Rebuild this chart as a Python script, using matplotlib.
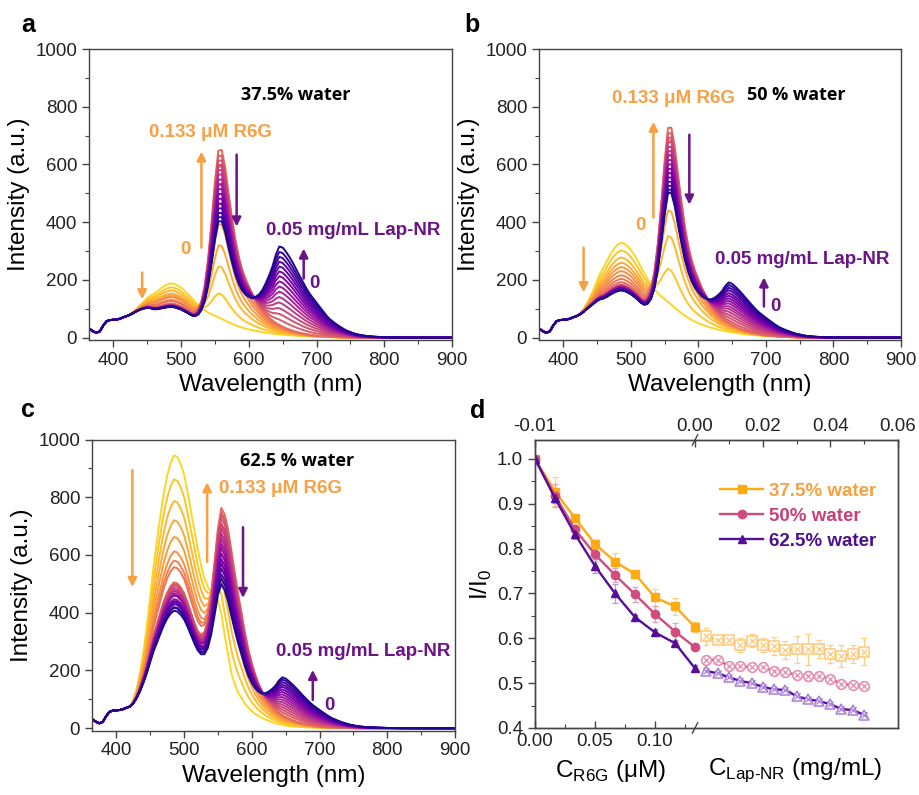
import numpy as np
import matplotlib
matplotlib.use("Agg")
import matplotlib.pyplot as plt
from matplotlib.ticker import MultipleLocator, FormatStrFormatter, FixedLocator

plt.rcParams['font.family'] = ['Liberation Sans', 'DejaVu Sans']

# ------------------------------------------------------------------ data
# wavelength grid of the spectra (nm)
wl = np.arange(365, 901, 5)

# constant background (same in every curve), starts at 365 nm
base_start = 365
base_vals = [30, 22, 17, 22, 42, 57, 61, 62, 63, 66, 71, 75, 78, 80, 80, 77,
             70, 60, 45, 30, 20, 13, 8, 5, 3, 2, 1, 1, 0, 0, 0, 0]

# donor emission band (normalised), starts at 420 nm
donor_start = 420
donor_ab = [0.0, 0.02, 0.06, 0.12, 0.2, 0.3, 0.42, 0.55, 0.66, 0.76, 0.85, 0.92, 0.97, 1.0,
            0.995, 0.97, 0.93, 0.88, 0.82, 0.75, 0.68, 0.62, 0.56, 0.51, 0.47, 0.44, 0.41, 0.38,
            0.35, 0.32, 0.29, 0.26,
            0.235, 0.21, 0.19, 0.17, 0.155, 0.14, 0.127, 0.115, 0.104, 0.094, 0.085, 0.077,
            0.07, 0.063, 0.057, 0.051, 0.046, 0.041, 0.037, 0.033, 0.029, 0.026, 0.023, 0.02,
            0.018, 0.016, 0.014, 0.012, 0.01, 0.008, 0.007, 0.006, 0.005, 0.004, 0.003, 0.002, 0.001]
donor_c = [0.0, 0.02, 0.06, 0.12, 0.2, 0.3, 0.42, 0.55, 0.66, 0.76, 0.85, 0.92, 0.97, 1.0,
           0.995, 0.97, 0.93, 0.87, 0.8, 0.73, 0.66, 0.6, 0.55, 0.52, 0.5, 0.49, 0.47, 0.42,
           0.34, 0.27, 0.2, 0.16,
           0.13, 0.11, 0.09, 0.075, 0.063, 0.053, 0.045, 0.038, 0.032, 0.027, 0.022, 0.018,
           0.015, 0.012, 0.01, 0.008, 0.007, 0.006, 0.005, 0.004, 0.003, 0.003, 0.002, 0.002,
           0.001, 0, 0, 0, 0, 0, 0, 0, 0, 0, 0, 0, 0]

# R6G emission band (normalised), starts at 515 nm
r6g_start = 515
r6g_ab = [0.0, 0.01, 0.04, 0.1, 0.2, 0.36, 0.57, 0.8, 0.98, 0.99,
          0.9, 0.76, 0.63, 0.51, 0.42, 0.35, 0.3, 0.26, 0.22, 0.19,
          0.16, 0.135, 0.115, 0.097, 0.082, 0.07, 0.06, 0.051, 0.044, 0.037,
          0.031, 0.026, 0.022, 0.018, 0.015, 0.012, 0.01, 0.008, 0.007, 0.006,
          0.005, 0.004, 0.003, 0.003, 0.002, 0.002, 0.001, 0.001]
r6g_c = [0.0, 0.01, 0.04, 0.1, 0.2, 0.36, 0.57, 0.8, 0.97, 1.0,
         0.97, 0.9, 0.8, 0.7, 0.6, 0.5, 0.41, 0.34, 0.28, 0.23,
         0.19, 0.16, 0.135, 0.115, 0.097, 0.082, 0.07, 0.06, 0.051, 0.043,
         0.036, 0.03, 0.025, 0.021, 0.017, 0.014, 0.011, 0.009, 0.008, 0.007,
         0.006, 0.005, 0.004, 0.003, 0.002, 0.002, 0.001, 0.001]

# Nile red (Lap-NR) emission band (normalised), starts at 575 nm
nr_start = 575
nr_shape = [0.01, 0.02, 0.035, 0.05, 0.07, 0.1, 0.14, 0.2, 0.27, 0.36,
            0.47, 0.59, 0.72, 0.88, 0.99, 0.99, 0.95, 0.9, 0.84, 0.77,
            0.7, 0.63, 0.56, 0.5, 0.45, 0.4, 0.35, 0.3, 0.25, 0.21,
            0.18, 0.15, 0.125, 0.1, 0.08, 0.065, 0.052, 0.04, 0.032, 0.025,
            0.02, 0.015, 0.012, 0.01, 0.008, 0.006, 0.005, 0.004, 0.003, 0.002,
            0.002, 0.001, 0.001, 0.001, 0.0, 0.0]

# donor intensity of the first curve of each panel
donor_I0 = {'a': 185, 'b': 326, 'c': 942}

# R6G band amplitude of each curve (9 R6G additions, then 15 Lap-NR additions)
r6g_amp_a = [0, 90, 189, 268, 345, 418, 488, 555, 616,
             598, 582, 566, 549, 533, 516, 500, 483, 466, 449, 432, 416, 400, 385, 370]
r6g_amp_b = [0, 128, 253, 350, 425, 497, 565, 620, 668,
             652, 637, 622, 606, 591, 576, 561, 546, 531, 516, 501, 487, 474, 461, 449]
r6g_amp_c = [0, 106, 200, 285, 360, 425, 480, 530, 569,
             553, 538, 522, 507, 491, 476, 461, 446, 431, 415, 400, 385, 370, 355, 340]
# Lap-NR band amplitude of each curve
nr_amp_a = [0, 0, 0, 0, 0, 0, 0, 0, 0,
            20, 41, 62, 83, 103, 123, 142, 161, 180, 198, 216, 234, 252, 270, 290]
nr_amp_b = [0, 0, 0, 0, 0, 0, 0, 0, 0,
            10, 21, 32, 43, 54, 64, 75, 85, 95, 105, 115, 126, 136, 146, 156]
nr_amp_c = [0, 0, 0, 0, 0, 0, 0, 0, 0,
            11, 21, 31, 41, 51, 61, 71, 81, 91, 101, 111, 120, 130, 140, 149]

# panel d : I/I0
c_r6g = [0.0, 0.0167, 0.0333, 0.05, 0.0667, 0.0833, 0.1, 0.1167, 0.1333]
c_lap = [0.0033, 0.0067, 0.01, 0.0133, 0.0167, 0.02, 0.0233, 0.0267, 0.03,
         0.0333, 0.0367, 0.04, 0.0433, 0.0467, 0.05]

y375_r6g = [1.0, 0.927, 0.868, 0.810, 0.771, 0.743, 0.691, 0.671, 0.625]
e375_r6g = [0.0, 0.032, 0.008, 0.010, 0.020, 0.005, 0.018, 0.018, 0.012]
y50_r6g = [1.0, 0.918, 0.843, 0.787, 0.741, 0.698, 0.654, 0.615, 0.580]
e50_r6g = [0.0, 0.025, 0.010, 0.015, 0.015, 0.017, 0.017, 0.020, 0.005]
y625_r6g = [1.0, 0.912, 0.832, 0.761, 0.700, 0.647, 0.613, 0.589, 0.533]
e625_r6g = [0.0, 0.010, 0.010, 0.015, 0.022, 0.005, 0.007, 0.007, 0.007]

y375_lap = [0.605, 0.596, 0.596, 0.585, 0.595, 0.585, 0.583, 0.574, 0.575, 0.575,
            0.577, 0.565, 0.561, 0.565, 0.570]
e375_lap = [0.019, 0.005, 0.007, 0.015, 0.015, 0.015, 0.020, 0.020, 0.030, 0.035,
            0.020, 0.020, 0.025, 0.020, 0.030]
y50_lap = [0.552, 0.552, 0.538, 0.538, 0.535, 0.535, 0.527, 0.525, 0.518, 0.516,
           0.516, 0.510, 0.498, 0.496, 0.494]
e50_lap = [0.008, 0.005, 0.005, 0.005, 0.005, 0.005, 0.008, 0.008, 0.008, 0.012,
           0.008, 0.006, 0.005, 0.005, 0.005]
y625_lap = [0.527, 0.522, 0.513, 0.505, 0.500, 0.492, 0.486, 0.485, 0.471, 0.464,
            0.460, 0.453, 0.442, 0.440, 0.429]
e625_lap = [0.006, 0.006, 0.006, 0.006, 0.006, 0.006, 0.006, 0.006, 0.006, 0.006,
            0.006, 0.006, 0.006, 0.006, 0.006]

series_labels = ['37.5% water', '50% water', '62.5% water']
spec_xticks = [400, 500, 600, 700, 800, 900]
spec_yticks = [0, 200, 400, 600, 800, 1000]
d_yticks = [0.4, 0.5, 0.6, 0.7, 0.8, 0.9, 1.0]
d_bottom_ticks = [0.0, 0.05, 0.10]
d_top_ticks = [0.0, 0.02, 0.04, 0.06]
d_top_labels = ['0.00', '0.02', '0.04', '0.06']
d_top_left_label = '-0.01'

# ------------------------------------------------------------------ helpers
def place(start, vals):
    arr = np.zeros(len(wl))
    i = int((start - wl[0]) // 5)
    arr[i:i + len(vals)] = vals
    return arr

BASE = place(base_start, base_vals)
DON_AB = place(donor_start, donor_ab)
DON_C = place(donor_start, donor_c)
R6G_AB = place(r6g_start, r6g_ab)
R6G_C = place(r6g_start, r6g_c)
NR = place(nr_start, nr_shape)

cmap = plt.get_cmap('plasma')
curve_colors = [cmap(v) for v in np.concatenate([np.linspace(0.92, 0.62, 9),
                                                  np.linspace(0.57, 0.03, 15)])]

SPINE = '#444444'
ORANGE_T = '#F8A044'
PURPLE_T = '#6A1488'


def style_spec(ax):
    ax.set_xlim(364, 900)
    ax.set_ylim(-8, 1000)
    ax.set_xticks(spec_xticks)
    ax.set_yticks(spec_yticks)
    ax.xaxis.set_minor_locator(MultipleLocator(50))
    ax.yaxis.set_minor_locator(MultipleLocator(100))
    ax.tick_params(which='both', direction='out', top=False, right=False,
                   labelsize=13.5, color=SPINE, labelcolor='#222222')
    ax.tick_params(which='major', length=5, width=1)
    ax.tick_params(which='minor', length=3, width=0.8)
    for s in ax.spines.values():
        s.set_color(SPINE)
        s.set_linewidth(1.0)
    ax.set_xlabel('Wavelength (nm)', fontsize=17.5, labelpad=4)
    ax.set_ylabel('Intensity (a.u.)', fontsize=17.5, labelpad=4)


def draw_spectra(ax, I0, ratios, donor, r6g, r6g_amp, nr_amp):
    for k in range(len(ratios)):
        y = BASE + I0 * ratios[k] * donor + r6g_amp[k] * r6g + nr_amp[k] * NR
        ax.plot(wl, y, color=curve_colors[k], lw=1.4)


def arrow(ax, x, y0, y1, color, lw=1.8, ms=13):
    ax.annotate('', xy=(x, y1), xytext=(x, y0),
                arrowprops=dict(arrowstyle='-|>', color=color, lw=lw,
                                mutation_scale=ms, shrinkA=0, shrinkB=0))


def txt(ax, x, y, s, color, size=13.5, family=None):
    kw = {}
    if family:
        kw['family'] = family
    ax.text(x, y, s, color=color, fontsize=size, fontweight='bold',
            ha='center', va='center', **kw)


# ------------------------------------------------------------------ figure
fig = plt.figure(figsize=(9.19, 7.95), dpi=100)
W, H = 919.0, 795.0

axa = fig.add_axes([89 / W, 1 - 340 / H, 363 / W, 291 / H])
axb = fig.add_axes([539 / W, 1 - 340 / H, 362 / W, 291 / H])
axc = fig.add_axes([92 / W, 1 - 730.5 / H, 363 / W, 291 / H])
axd = fig.add_axes([535 / W, 1 - 728 / H, 363 / W, 288 / H])

ratios_a = y375_r6g + y375_lap
ratios_b = y50_r6g + y50_lap
ratios_c = y625_r6g + y625_lap

draw_spectra(axa, donor_I0['a'], ratios_a, DON_AB, R6G_AB, r6g_amp_a, nr_amp_a)
draw_spectra(axb, donor_I0['b'], ratios_b, DON_AB, R6G_AB, r6g_amp_b, nr_amp_b)
draw_spectra(axc, donor_I0['c'], ratios_c, DON_C, R6G_C, r6g_amp_c, nr_amp_c)
for ax in (axa, axb, axc):
    style_spec(ax)

WATER_FONT = ['Open Sans', 'DejaVu Sans']

# panel a annotations
txt(axa, 669, 842, '37.5% water', 'black', 13, WATER_FONT)
txt(axa, 543, 710, '0.133 μM R6G', ORANGE_T)
arrow(axa, 530, 312, 645, ORANGE_T)
txt(axa, 506, 305, '0', ORANGE_T)
arrow(axa, 582, 634, 385, PURPLE_T)
txt(axa, 754, 372, '0.05 mg/mL Lap-NR', PURPLE_T)
arrow(axa, 681, 205, 309, PURPLE_T)
txt(axa, 697, 188, '0', PURPLE_T)
arrow(axa, 442.5, 226, 133, ORANGE_T)

# panel b annotations
txt(axb, 745, 842, '50 % water', 'black', 13, WATER_FONT)
txt(axb, 563, 828, '0.133 μM R6G', ORANGE_T)
arrow(axb, 533.4, 416, 748, ORANGE_T)
txt(axb, 514, 388, '0', ORANGE_T)
arrow(axb, 586.6, 703, 461, PURPLE_T)
txt(axb, 753, 271, '0.05 mg/mL Lap-NR', PURPLE_T)
arrow(axb, 697, 108, 209, PURPLE_T)
txt(axb, 714, 108, '0', PURPLE_T)
arrow(axb, 430, 312, 157, ORANGE_T)

# panel c annotations
txt(axc, 667, 925, '62.5 % water', 'black', 13, WATER_FONT)
txt(axc, 642, 831, '0.133 μM R6G', ORANGE_T)
arrow(axc, 534, 576, 852, ORANGE_T)
arrow(axc, 587, 696, 451, PURPLE_T)
arrow(axc, 423.6, 894, 489, ORANGE_T)
txt(axc, 764, 264, '0.05 mg/mL Lap-NR', PURPLE_T)
arrow(axc, 690, 98, 202, PURPLE_T)
txt(axc, 715, 78, '0', PURPLE_T)

# ------------------------------------------------------------------ panel d
line_cols = ['#FFAA10', '#D14B7C', '#560E9A']
light_cols = ['#FFC978', '#E58AAE', '#A980D8']
err_light = ['#FFCF80', '#EE9DB8', '#B898DC']
text_cols = ['#F8A040', '#C8407A', '#4E0F90']
fill_markers = ['s', 'o', '^']

ys_r6g = [y375_r6g, y50_r6g, y625_r6g]
es_r6g = [e375_r6g, e50_r6g, e625_r6g]
ys_lap = [y375_lap, y50_lap, y625_lap]
es_lap = [e375_lap, e50_lap, e625_lap]

xb = c_r6g[-1]
frac_break = 160.0 / 363.0
x_right = xb / frac_break
lap_left = -d_top_ticks[-1] * frac_break / (1 - frac_break)

axd2 = axd.twiny()
axd.set_xlim(0, x_right)
axd.set_ylim(0.4, 1.042)
axd2.set_xlim(lap_left, d_top_ticks[-1])

handles = []
for i in range(3):
    axd.errorbar(c_r6g, ys_r6g[i], yerr=es_r6g[i], fmt='none', ecolor=err_light[i],
                 elinewidth=0.9, capsize=2.5, capthick=0.9, zorder=2)
    h, = axd.plot(c_r6g, ys_r6g[i], '-', marker=fill_markers[i], color=line_cols[i],
                  lw=1.7, ms=6, zorder=3, label=series_labels[i])
    handles.append(h)
    axd2.errorbar(c_lap, ys_lap[i], yerr=es_lap[i], fmt='none', ecolor=err_light[i],
                  elinewidth=0.9, capsize=2.5, capthick=0.9, zorder=2)
    axd2.plot(c_lap, ys_lap[i], '-', color=line_cols[i], lw=1.7, zorder=3)
    axd2.plot(c_lap, ys_lap[i], linestyle='none', marker=fill_markers[i], ms=7,
              mfc='white', mec=light_cols[i], mew=1.1, zorder=4)
    axd2.plot(c_lap, ys_lap[i], linestyle='none', marker='x', ms=4,
              mec=light_cols[i], mew=0.9, zorder=5)

leg = axd2.legend(handles=handles, loc='upper left', bbox_to_anchor=(0.49, 0.878),
                  frameon=False, handlelength=2.3, handletextpad=0.3, labelspacing=0.42,
                  prop={'weight': 'bold', 'size': 13.5}, borderaxespad=0)
for t, c in zip(leg.get_texts(), text_cols):
    t.set_color(c)

axd.set_xticks(d_bottom_ticks)
axd.set_xlim(0, x_right)
axd.xaxis.set_major_formatter(FormatStrFormatter('%.2f'))
axd.xaxis.set_minor_locator(FixedLocator([0.025, 0.075, 0.125]))
axd.set_yticks(d_yticks)
axd.yaxis.set_major_formatter(FormatStrFormatter('%.1f'))
axd.yaxis.set_minor_locator(MultipleLocator(0.05))
axd.tick_params(axis='x', which='both', direction='in', top=False)
axd.tick_params(axis='y', which='both', direction='out')
axd.tick_params(which='both', labelsize=13.5, color=SPINE, labelcolor='#222222')
axd.tick_params(which='major', length=5, width=1)
axd.tick_params(which='minor', length=3, width=0.8)

axd2.set_xticks([lap_left] + d_top_ticks)
axd2.set_xticklabels([d_top_left_label] + d_top_labels)
axd2.xaxis.set_minor_locator(FixedLocator([0.01, 0.03, 0.05]))
axd2.tick_params(axis='x', which='both', direction='in', labelsize=13.5,
                 color=SPINE, labelcolor='#222222')
axd2.tick_params(which='major', length=5, width=1)
axd2.tick_params(which='minor', length=3, width=0.8)
for a in (axd, axd2):
    for s in a.spines.values():
        s.set_color(SPINE)
        s.set_linewidth(1.0)

# axis-break slashes
for yy in (0.0, 1.0):
    axd.plot([xb - 0.0022, xb + 0.0022], [yy - 0.018, yy + 0.018],
             transform=axd.get_xaxis_transform(), color=SPINE, lw=1.0,
             clip_on=False, zorder=10)

axd.set_ylabel('I/I$_\\mathregular{0}$', fontsize=17.5, labelpad=2)
axd.text(0.207, -0.148, 'C$_\\mathregular{R6G}$ (μM)', transform=axd.transAxes,
         fontsize=17.5, ha='center', va='center')
axd.text(0.716, -0.148, 'C$_\\mathregular{Lap‐NR}$ (mg/mL)', transform=axd.transAxes,
         fontsize=17.5, ha='center', va='center')

# panel letters
for s, (px, py) in zip('abcd', [(28, 25), (472, 25), (28, 410), (478, 411)]):
    fig.text(px / W, 1 - py / H, s, fontsize=18, fontweight='bold', ha='center', va='center')

fig.savefig('out.png', dpi=100)
